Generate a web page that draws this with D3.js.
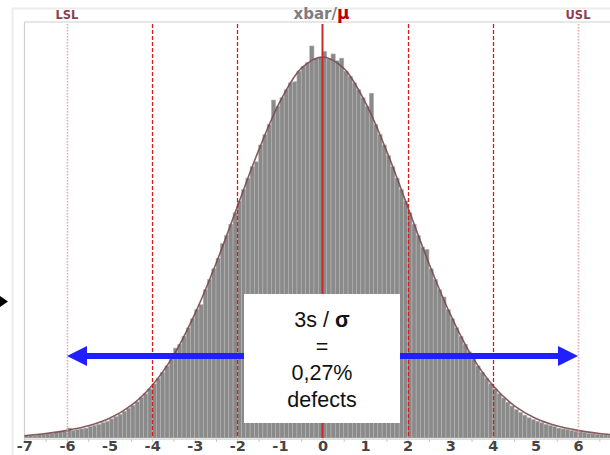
<!DOCTYPE html>
<html>
<head>
<meta charset="utf-8">
<script src="https://cdn.jsdelivr.net/npm/d3@7"></script>
<style>
  html, body { margin: 0; padding: 0; background: #fff; }
  svg { display: block; }
</style>
</head>
<body>
<svg id="chart" width="610" height="455"></svg>
<script>
// histogram bins: 140 bins of 0.1 from -7.0 to +7.0, heights in % of the fitted peak
const binStart = -7
const binWidth = 0.1
const barHeights = [
  0.6, 0.7, 0.7, 0.9, 1.0, 1.1, 1.2, 1.4, 1.6, 1.8,
  2.6, 2.0, 2.2, 2.4, 2.6, 3.0, 3.3, 3.6, 4.0, 4.4,
  5.0, 5.6, 6.2, 7.0, 7.8, 8.6, 9.5, 10.6, 11.6, 12.9,
  14.2, 15.7, 17.2, 18.9, 20.7, 23.6, 24.6, 26.7, 28.9, 31.3,
  33.7, 35.0, 38.9, 41.6, 44.4, 47.2, 51.0, 53.1, 56.1, 59.1,
  62.2, 65.2, 68.2, 71.2, 72.5, 76.9, 79.6, 82.3, 88.7, 87.1,
  89.3, 91.4, 93.2, 93.5, 96.3, 97.5, 98.5, 102.9, 99.7, 100,
  101.5, 99.5, 100.8, 99.0, 99.7, 96.3, 94.9, 93.2, 91.4, 89.3,
  87.1, 90.5, 82.3, 79.6, 76.9, 74.1, 71.2, 68.2, 65.2, 62.2,
  59.1, 56.1, 53.1, 50.1, 49.5, 44.4, 41.6, 38.9, 37.0, 33.7,
  31.3, 28.9, 26.7, 24.6, 22.6, 20.7, 18.9, 17.2, 15.7, 14.2,
  12.9, 11.6, 10.5, 9.4, 8.4, 7.5, 6.7, 6.0, 5.3, 4.8,
  4.4, 4.0, 3.6, 3.3, 3.0, 2.6, 2.4, 2.2, 2.0, 1.8,
  1.6, 1.4, 1.2, 1.1, 1.0, 0.9, 0.8, 0.7, 0.7, 0.6
]

// fitted curve, read every half unit
const curveX = [-7, -6.5, -6, -5.5, -5, -4.5, -4, -3.5, -3, -2.5, -2, -1.5, -1, -0.5, 0,
  0.5, 1, 1.5, 2, 2.5, 3, 3.5, 4, 4.5, 5, 5.5, 6, 6.5, 7]
const curveY = [0.6, 1.2, 2.0, 3.2, 5.2, 8.5, 13.8, 21.6, 32.5, 45.8, 60.7, 75.5, 88.2, 97.0, 100,
  97.0, 88.2, 75.5, 60.7, 45.8, 32.5, 21.6, 13.8, 8.5, 5.2, 3.2, 2.0, 1.2, 0.6]

const tickLabels = [-7, -6, -5, -4, -3, -2, -1, 0, 1, 2, 3, 4, 5, 6]
const sigmaLines = [-4, -2, 2, 4]
const specLimits = [{ name: 'LSL', at: -6 }, { name: 'USL', at: 6 }]
const meanAt = 0
const arrowSpan = [-6, 6]
const boxLines = ['3s / ', '=', '0,27%', 'defects']

const svg = d3.select('#chart')

const plotTop = 22
const plotBottom = 438

const x = d3.scaleLinear().domain([-7, 7]).range([24.4, 620.6])
const y = d3.scaleLinear().domain([0, 100]).range([plotBottom, 57])
// snap thin vertical lines onto the pixel grid
const xs = v => Math.round(x(v)) + 0.5

// faint outer frame and plot border
svg.append('rect')
  .attr('x', 12.5).attr('y', 8.5).attr('width', 610).attr('height', 460)
  .style('fill', 'none').style('stroke', '#ececec').style('stroke-width', 2)

svg.append('path')
  .attr('d', 'M24.5,440 V' + plotTop + ' H610')
  .style('fill', 'none').style('stroke', '#d0d0d0').style('stroke-width', 1.2)

// bars
svg.append('g')
  .selectAll('rect')
  .data(barHeights)
  .join('rect')
  .attr('x', (d, i) => x(binStart + i * binWidth))
  .attr('y', d => y(d))
  .attr('width', x(binWidth) - x(0))
  .attr('height', d => plotBottom - y(d))
  .style('fill', '#8a8a8a')
  .style('stroke', '#b4b4b4')
  .style('stroke-width', 0.6)

// fitted curve
const line = d3.line()
  .x(d => x(d[0]))
  .y(d => y(d[1]))
  .curve(d3.curveCatmullRom)

svg.append('path')
  .datum(d3.zip(curveX, curveY))
  .attr('d', line)
  .style('fill', 'none')
  .style('stroke', '#7a4a4e')
  .style('stroke-width', 1.6)
  .style('opacity', 0.9)

// axis: minor ticks every half unit, then labels
const axisG = svg.append('g').attr('transform', 'translate(0,' + (plotBottom + 1) + ')')
axisG.call(d3.axisBottom(x).tickValues(d3.range(-7, 7.01, 0.5)).tickSize(3).tickFormat(''))
axisG.select('.domain').style('stroke', '#dedede')
axisG.selectAll('.tick line').style('stroke', '#c8c8c8')

const labelG = svg.append('g').attr('transform', 'translate(0,' + (plotBottom + 1) + ')')
labelG.call(d3.axisBottom(x).tickValues(tickLabels).tickSize(0).tickPadding(2).tickFormat(d => d))
labelG.select('.domain').remove()
labelG.selectAll('text')
  .style('font-family', 'DejaVu Sans, Verdana, sans-serif')
  .style('font-size', '14.5px')
  .style('font-weight', 'bold')
  .style('fill', '#454545')

// spec limits (dotted pink)
specLimits.forEach(s => {
  svg.append('line')
    .attr('x1', xs(s.at)).attr('x2', xs(s.at))
    .attr('y1', plotTop + 2).attr('y2', plotBottom)
    .style('stroke', '#e6aab2')
    .style('stroke-width', 1.6)
    .style('stroke-dasharray', '1.5,1.5')
  svg.append('text')
    .attr('x', x(s.at)).attr('y', 18.5)
    .attr('text-anchor', 'middle')
    .style('font-family', 'DejaVu Sans, Verdana, sans-serif')
    .style('font-size', '11.5px')
    .style('font-weight', 'bold')
    .style('fill', '#8e3e50')
    .text(s.name)
})

// +-1s, +-2s dashed red
svg.append('g')
  .selectAll('line')
  .data(sigmaLines)
  .join('line')
  .attr('x1', d => xs(d)).attr('x2', d => xs(d))
  .attr('y1', plotTop + 2).attr('y2', plotBottom)
  .style('stroke', '#d41c1c')
  .style('stroke-width', 1.3)
  .style('stroke-dasharray', '4,2')

// mean
svg.append('line')
  .attr('x1', x(meanAt)).attr('x2', x(meanAt))
  .attr('y1', plotTop + 2).attr('y2', plotBottom)
  .style('stroke', '#c82a2a')
  .style('stroke-width', 2)

const title = svg.append('text')
  .attr('x', x(meanAt) - 1).attr('y', 19)
  .attr('text-anchor', 'middle')
  .style('font-family', 'DejaVu Sans, Verdana, sans-serif')
  .style('font-weight', 'bold')
title.append('tspan').style('font-size', '15px').style('fill', '#7e7e7e').text('xbar/')
title.append('tspan').style('font-size', '17px').style('fill', '#b80000').text('μ')

// blue double arrow
const arrowY = 356
const headLen = 20
const headHalf = 10
svg.append('line')
  .attr('x1', x(arrowSpan[0]) + headLen - 2).attr('x2', x(arrowSpan[1]) - headLen + 2)
  .attr('y1', arrowY).attr('y2', arrowY)
  .style('stroke', '#1f1fff')
  .style('stroke-width', 6)

arrowSpan.forEach((v, i) => {
  var tip = x(v)
  var dir = i === 0 ? 1 : -1
  svg.append('path')
    .attr('d', 'M' + tip + ',' + arrowY +
      ' L' + (tip + dir * headLen) + ',' + (arrowY - headHalf) +
      ' L' + (tip + dir * headLen) + ',' + (arrowY + headHalf) + ' Z')
    .style('fill', '#1f1fff')
})

// small black pointer at left edge
svg.append('path')
  .attr('d', 'M0,296 L8,301.5 L0,307 Z')
  .style('fill', '#000')

// white callout box
svg.append('rect')
  .attr('x', 244).attr('y', 294).attr('width', 156).attr('height', 129)
  .style('fill', '#fff')

const boxText = svg.append('g')
  .style('font-family', 'Liberation Sans, Arial, sans-serif')
  .style('font-size', '21.5px')
  .style('fill', '#111')
  .attr('text-anchor', 'middle')

boxLines.forEach((t, i) => {
  var tx = boxText.append('text')
    .attr('x', 322).attr('y', 327 + i * 26.5)
  tx.append('tspan').text(t)
  if (i === 0) {
    tx.append('tspan').style('font-weight', 'bold').text('σ')
  }
})
</script>
</body>
</html>
